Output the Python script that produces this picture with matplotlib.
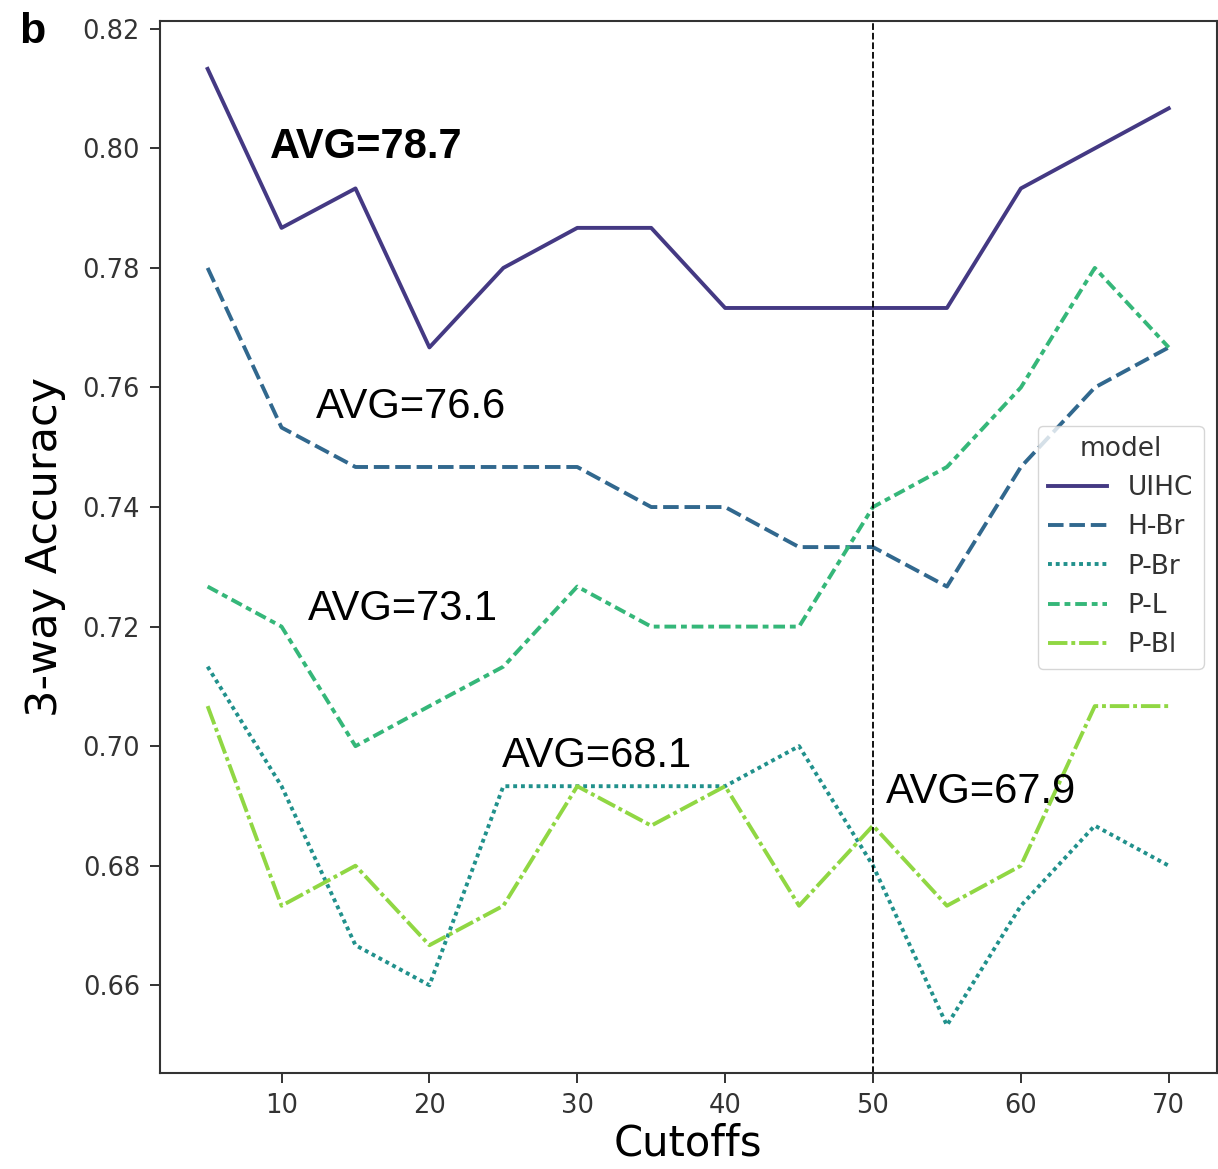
import numpy as np
import matplotlib
matplotlib.use('Agg')
import matplotlib.pyplot as plt

cutoffs = [5, 10, 15, 20, 25, 30, 35, 40, 45, 50, 55, 60, 65, 70]
models = ['UIHC', 'H-Br', 'P-Br', 'P-L', 'P-Bl']

uihc = [0.8133, 0.7867, 0.7933, 0.7667, 0.7800, 0.7867, 0.7867, 0.7733, 0.7733, 0.7733, 0.7733, 0.7933, 0.8000, 0.8067]
h_br = [0.7800, 0.7533, 0.7467, 0.7467, 0.7467, 0.7467, 0.7400, 0.7400, 0.7333, 0.7333, 0.7267, 0.7467, 0.7600, 0.7667]
p_br = [0.7133, 0.6933, 0.6667, 0.6600, 0.6933, 0.6933, 0.6933, 0.6933, 0.7000, 0.6800, 0.6533, 0.6733, 0.6867, 0.6800]
p_l = [0.7267, 0.7200, 0.7000, 0.7067, 0.7133, 0.7267, 0.7200, 0.7200, 0.7200, 0.7400, 0.7467, 0.7600, 0.7800, 0.7667]
p_bl = [0.7067, 0.6733, 0.6800, 0.6667, 0.6733, 0.6933, 0.6867, 0.6933, 0.6733, 0.6867, 0.6733, 0.6800, 0.7067, 0.7067]

# annotation texts and where they sit (data coords)
avg_labels = ['AVG=78.7', 'AVG=76.6', 'AVG=73.1', 'AVG=68.1', 'AVG=67.9']
avg_x = [9.2, 12.3, 11.8, 24.9, 50.9]
avg_y = [0.7984, 0.7549, 0.7211, 0.6965, 0.6905]

series = [uihc, h_br, p_br, p_l, p_bl]
# seaborn style dashes
dashes = [(None, None), (4, 1.5), (1, 1), (3, 1.25, 1.5, 1.25), (5, 1, 1, 1)]
cmap = matplotlib.colormaps['viridis']
colors = [cmap(v) for v in np.linspace(0, 1, 7)[1:-1]]

fig = plt.figure(figsize=(12.18, 11.69), dpi=100)
ax = fig.add_axes([0.131, 0.082, 0.868, 0.900])

for name, vals, d, c in zip(models, series, dashes, colors):
    line, = ax.plot(cutoffs, vals, color=c, lw=2.8, label=name)
    if d[0] is not None:
        line.set_dashes(d)

ax.axvline(50, color='black', ls='--', lw=1.3)

for i, (t, x, y) in enumerate(zip(avg_labels, avg_x, avg_y)):
    ax.text(x, y, t, fontsize=30, family='Liberation Sans',
            fontweight='bold' if i == 0 else 'normal', ha='left', va='baseline')

ax.set_xticks([10, 20, 30, 40, 50, 60, 70])
ax.set_yticks([0.66, 0.68, 0.70, 0.72, 0.74, 0.76, 0.78, 0.80, 0.82])
ax.set_yticklabels(['%.2f' % v for v in ax.get_yticks()])
ax.tick_params(labelsize=18.5, length=7, width=1.4, pad=7, colors='#333333', labelcolor='#333333')
for s in ax.spines.values():
    s.set_linewidth(1.5)
    s.set_color('#333333')

ax.set_xlabel('Cutoffs', fontsize=30, labelpad=3)
ax.set_ylabel('3-way Accuracy', fontsize=31, labelpad=12)

leg = ax.legend(title='model', loc='center right', fontsize=19, title_fontsize=19,
                handlelength=2.2, framealpha=0.8)
for t in leg.get_texts():
    t.set_color('#333333')
leg.get_title().set_color('#333333')

fig.text(0.016, 0.99, 'b', fontsize=31, fontweight='bold', family='Liberation Sans',
         va='top', ha='left')

plt.savefig('out.png', dpi=100)
